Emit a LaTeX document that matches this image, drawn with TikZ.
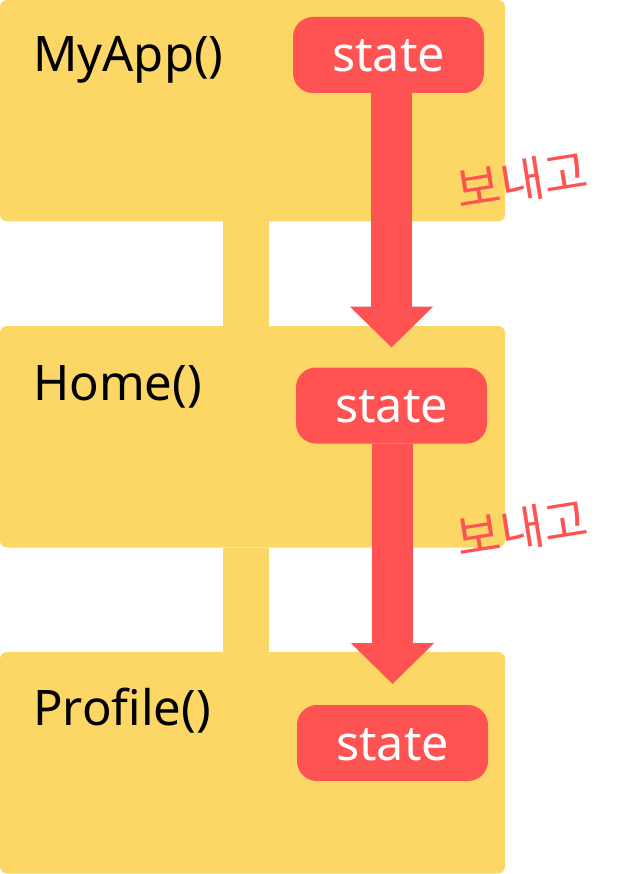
\documentclass[tikz,border=0pt]{standalone}
\usepackage{fontspec}
\setmainfont{Noto Sans}
\newfontfamily\krfont{Noto Sans CJK KR}
\usetikzlibrary{arrows.meta}
\definecolor{boxyellow}{RGB}{253,215,102}
\definecolor{statered}{RGB}{255,82,82}
\begin{document}
\begin{tikzpicture}[x=1pt,y=-1pt,
  compbox/.style={fill=boxyellow, rounded corners=7pt, minimum width=505pt, minimum height=221.5pt, anchor=north west, inner sep=0pt, outer sep=0pt},
  statebox/.style={fill=statered, rounded corners=20pt, minimum width=191pt, minimum height=76pt, inner sep=0pt, outer sep=0pt},
  statetext/.style={anchor=base, inner sep=0pt, text=white, font=\fontsize{48.5}{48.5}\selectfont},
  complabel/.style={anchor=base west, inner sep=0pt, font=\fontsize{49}{49}\selectfont},
  sendlabel/.style={text=statered, rotate=9, inner sep=0pt, font=\krfont\fontsize{48}{48}\selectfont},
  link/.style={boxyellow, line width=46pt},
  flow/.style={statered, line width=41pt, -{Triangle[width=81pt,length=41pt]}}
]
\useasboundingbox (0,0) rectangle (629,874);
\coordinate (cx) at (246,0);
% component boxes
\node[compbox] (b1) at (0,0) {};
\node[compbox] (b2) at (0,326) {};
\node[compbox] (b3) at (0,652) {};
% links between components
\draw[link] (b1.south -| cx) -- (b2.north -| cx);
\draw[link] (b2.south -| cx) -- (b3.north -| cx);
% labels
\node[complabel] (l1) at (33,72) {MyApp()};
\node[complabel] (l2) at (33,400) {Home()};
\node[complabel] (l3) at (33,725) {Profile()};
% state boxes
\node[statebox] (s1) at (388.5,55) {};
\node[statebox] (s2) at (391.5,405.5) {};
\node[statebox] (s3) at (392.5,743) {};
\node[statetext] (t1) at (388.5,72) {state};
\node[statetext] (t2) at (391.5,422) {state};
\node[statetext] (t3) at (392.5,760) {state};
% arrows
\draw[flow, shorten >=20pt] (s2.north |- s1.south) -- (s2.north);
\draw[flow, shorten >=21pt] (s3.north |- s2.south) -- (s3.north);
% send labels
\node[sendlabel] (k1) at (522,180) {보내고};
\node[sendlabel] (k2) at (522,528) {보내고};
\end{tikzpicture}
\end{document}
